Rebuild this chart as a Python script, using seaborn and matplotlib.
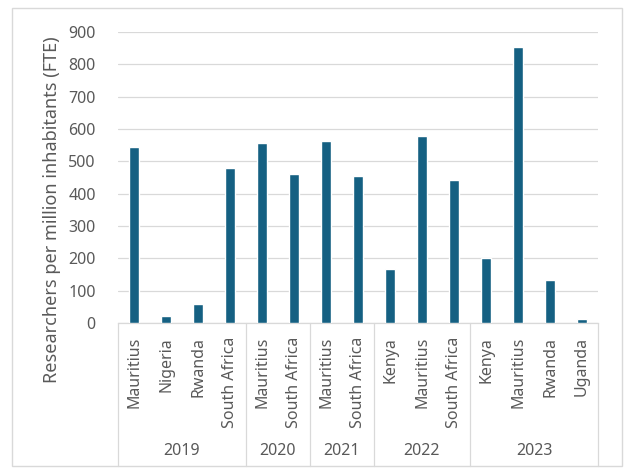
import matplotlib
matplotlib.use("Agg")
import matplotlib.pyplot as plt
import seaborn as sns
import pandas as pd
from matplotlib.patches import FancyBboxPatch

years = ["2019", "2019", "2019", "2019", "2020", "2020", "2021", "2021",
         "2022", "2022", "2022", "2023", "2023", "2023", "2023"]
countries = ["Mauritius", "Nigeria", "Rwanda", "South Africa",
             "Mauritius", "South Africa",
             "Mauritius", "South Africa",
             "Kenya", "Mauritius", "South Africa",
             "Kenya", "Mauritius", "Rwanda", "Uganda"]
values = [544, 22, 59, 479, 558, 461, 564, 455, 167, 578, 442, 200, 853, 133, 11]
year_groups = ["2019", "2020", "2021", "2022", "2023"]
yticks = [0, 100, 200, 300, 400, 500, 600, 700, 800, 900]

sns.set_theme(style="white")
plt.rcParams["font.family"] = ["Noto Sans", "DejaVu Sans"]

df = pd.DataFrame({"slot": [f"{y}-{c}" for y, c in zip(years, countries)],
                   "value": values})

fig = plt.figure(figsize=(6.29, 4.69), dpi=100)
fig.patch.set_facecolor("white")
ax = fig.add_axes([118/629, 1-323/469, 480/629, 291/469])

sns.barplot(data=df, x="slot", y="value", color="#156082", width=0.31,
            saturation=1, ax=ax, zorder=3)

grey = "#595959"
ax.set_ylim(0, 900)
ax.set_xlim(-0.5, len(values) - 0.5)
ax.set_yticks(yticks)
ax.set_yticklabels([str(t) for t in yticks], fontsize=11.5, color=grey)
ax.yaxis.grid(True, color="#d9d9d9", linewidth=0.9, zorder=0)
ax.set_xticks(range(len(values)))
ax.set_xticklabels(countries, rotation=90, fontsize=11.5, color=grey,
                   va="top", ha="center")
ax.tick_params(axis="x", length=0, pad=10)
ax.tick_params(axis="y", length=0, pad=16)
ax.set_xlabel("")
ax.set_ylabel("Researchers per million inhabitants (FTE)", fontsize=13,
              color=grey)
ax.yaxis.label.set_va("center")
ax.yaxis.set_label_coords(-0.1375, 0.388)
for s in ["top", "right", "left"]:
    ax.spines[s].set_visible(False)
ax.spines["bottom"].set_color("#d9d9d9")
ax.spines["bottom"].set_linewidth(0.9)

# group separators and year labels
trans = ax.get_xaxis_transform()
bounds = []
start = 0
for g in year_groups:
    n = years.count(g)
    bounds.append((start, start + n))
    start += n
edges = [-0.5] + [b[1] - 0.5 for b in bounds]
for e in edges:
    ax.plot([e, e], [0, -0.49], transform=trans, color="#d9d9d9",
            linewidth=0.9, clip_on=False)
for g, (a, b) in zip(year_groups, bounds):
    ax.text((a + b - 1) / 2, -0.44, g, transform=trans, ha="center",
            va="center", fontsize=11.5, color=grey)

# outer chart frame
frame = FancyBboxPatch((12/629, 3/469), 610/629, 458/469,
                       boxstyle="square,pad=0", transform=fig.transFigure,
                       facecolor="none", edgecolor="#d9d9d9", linewidth=1.0)
fig.patches.append(frame)

fig.savefig("out.png", dpi=100)
